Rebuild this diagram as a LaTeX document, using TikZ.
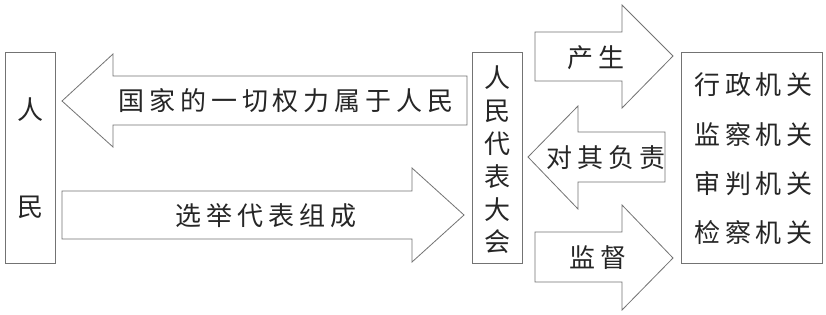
\documentclass[tikz,border=0pt]{standalone}
\usepackage{fontspec}
\newfontfamily\cjk{Noto Sans CJK SC}
\newfontfamily\cjkwide[LetterSpace=19]{Noto Sans CJK SC}
\begin{document}
\begin{tikzpicture}[x=1pt,y=-1pt,
  line/.style={draw=black!55,line width=0.8pt,line join=miter},
  boxnode/.style={line,rectangle,inner sep=0pt},
  txt/.style={font=\cjk\fontsize{26}{26}\selectfont,text=black!85,inner sep=0pt},
  wtxt/.style={font=\cjkwide\fontsize{26}{26}\selectfont,text=black!85,inner sep=0pt},
  ]
\useasboundingbox[fill=white] (0,0) rectangle (826,314);
% boxes
\node[boxnode,minimum width=50pt,minimum height=211pt] (people) at (30,157.5) {};
\node[txt] (ren) at (30,110) {人};
\node[txt] (min) at (30,207) {民};
\node[boxnode,minimum width=50pt,minimum height=211pt] (npc) at (497,157.5) {};
\node[txt,align=center,font=\cjk\fontsize{26}{32.8}\selectfont] (npctext) at (497,160) {人\\民\\代\\表\\大\\会};
\node[boxnode,minimum width=141pt,minimum height=211pt] (organs) at (751.5,157.5) {};
\node[wtxt,align=center,font=\cjkwide\fontsize{26}{49.3}\selectfont] (organtext) at (753.5,159) {行政机关\\监察机关\\审判机关\\检察机关};
% big arrows
\draw[line] (62,101) -- (113,54) -- (113,76) -- (467,76) -- (467,125) -- (113,125) -- (113,147) -- cycle;
\node[wtxt] (belong) at (286,101) {国家的一切权力属于人民};
\draw[line] (62,191) -- (412,191) -- (412,168) -- (464,215) -- (412,262) -- (412,239) -- (62,239) -- cycle;
\node[wtxt] (elect) at (266,216) {选举代表组成};
% small arrows
\draw[line] (535,32) -- (622,32) -- (622,5) -- (673,56) -- (622,108) -- (622,81) -- (535,81) -- cycle;
\node[wtxt] (produce) at (596,58) {产生};
\draw[line] (528,157) -- (578,106) -- (578,132) -- (665,132) -- (665,182) -- (578,182) -- (578,209) -- cycle;
\node[wtxt] (resp) at (606,158) {对其负责};
\draw[line] (535,232) -- (622,232) -- (622,205) -- (673,258) -- (622,310) -- (622,282) -- (535,282) -- cycle;
\node[wtxt] (supervise) at (598,258) {监督};
\end{tikzpicture}
\end{document}
